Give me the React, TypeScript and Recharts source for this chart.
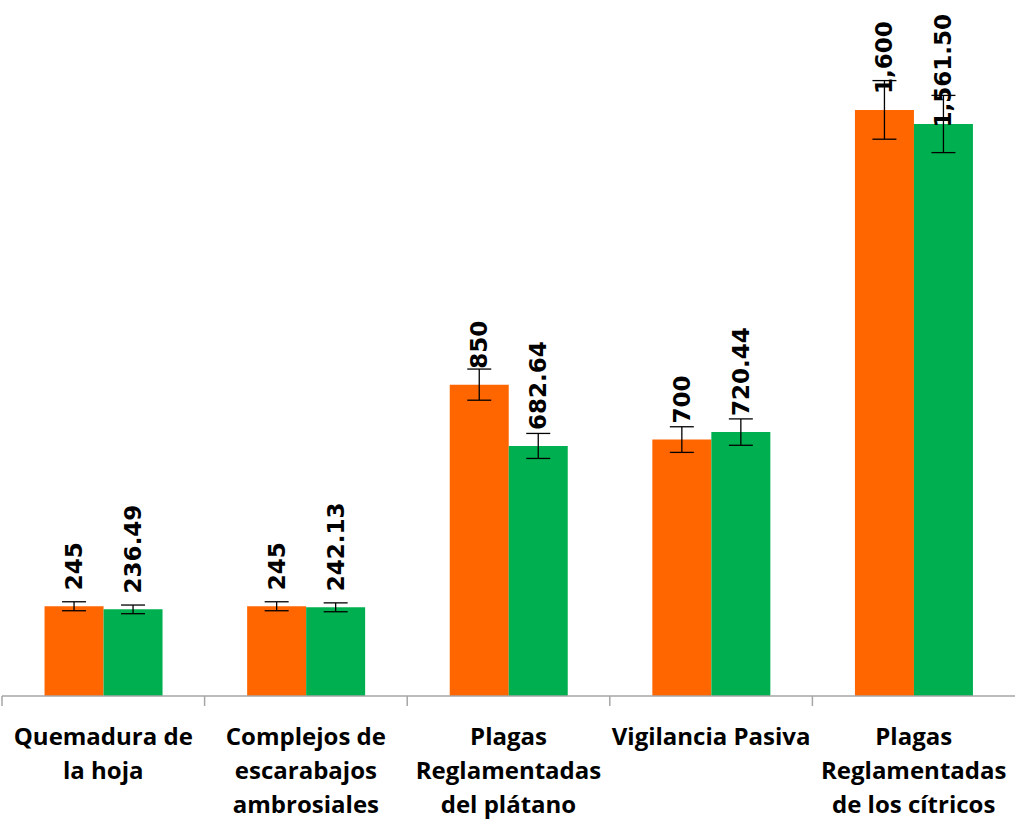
import { BarChart, Bar, XAxis, YAxis, ErrorBar, LabelList } from "recharts";

const categories = [
  ["Quemadura de", "la hoja"],
  ["Complejos de", "escarabajos", "ambrosiales"],
  ["Plagas", "Reglamentadas", "del plátano"],
  ["Vigilancia Pasiva"],
  ["Plagas", "Reglamentadas", "de los cítricos"],
];
const orangeValues = [245, 245, 850, 700, 1600];
const greenValues = [236.49, 242.13, 682.64, 720.44, 1561.5];
const orangeErrors = [12.25, 12.25, 42.5, 35, 80];
const greenErrors = [11.82, 12.11, 34.13, 36.02, 78.08];

const W = 1015;
const H = 820;
const AXIS_H = 124;
const LABEL_FS = 23;
const margin = { top: 0, right: 0, left: 2, bottom: 0 };

const data = categories.map((c, i) => ({
  name: c.join(" "),
  orange: orangeValues[i],
  green: greenValues[i],
  orangeErr: orangeErrors[i],
  greenErr: greenErrors[i],
}));

const bandWidth = (W - margin.left - margin.right) / categories.length;

function CategoryTick(props: any) {
  const { x, y, index } = props;
  const lines = categories[index] || [];
  const left = x - bandWidth / 2;
  return (
    <g>
      <line x1={left} y1={y - 8} x2={left} y2={y + 2} stroke="#a6a6a6" strokeWidth={1.5} />
      <text
        x={x}
        y={y}
        textAnchor="middle"
        fill="#000"
        fontFamily="'Open Sans', sans-serif"
        fontWeight={700}
        fontSize={24}
      >
        {lines.map((l: string, i: number) => (
          <tspan key={i} x={x} y={y + 31 + i * 34} dominantBaseline="central">
            {l}
          </tspan>
        ))}
      </text>
    </g>
  );
}

// rough text length of a rotated value label, to keep it inside the top edge
function labelLength(txt: string) {
  let len = 0;
  for (const ch of txt) len += /[0-9]/.test(ch) ? 0.696 * LABEL_FS : 0.38 * LABEL_FS;
  return len;
}

function makeLabel(decimals: number) {
  return (props: any) => {
    const { x, y, width, value } = props;
    const cx = x + width / 2;
    const txt = Number(value).toLocaleString("en-US", {
      minimumFractionDigits: decimals,
      maximumFractionDigits: decimals,
    });
    const ty = Math.max(y - 16, 14 + labelLength(txt));
    return (
      <text
        x={cx}
        y={ty}
        transform={`rotate(-90 ${cx} ${ty})`}
        textAnchor="start"
        dominantBaseline="central"
        fill="#000"
        fontFamily="'DejaVu Sans', sans-serif"
        fontWeight={700}
        fontSize={LABEL_FS}
      >
        {txt}
      </text>
    );
  };
}

export default function App() {
  return (
    <div style={{ position: "absolute", left: 0, top: 0, width: W, height: H, background: "#fff" }}>
      <BarChart width={W} height={H} data={data} margin={margin} barCategoryGap="21%" barGap={0}>
        <XAxis
          dataKey="name"
          interval={0}
          tick={<CategoryTick />}
          tickLine={false}
          axisLine={{ stroke: "#a6a6a6", strokeWidth: 1.5 }}
          height={AXIS_H}
        />
        <YAxis hide domain={[0, 1900]} />
        <Bar dataKey="orange" fill="#FF6600" isAnimationActive={false}>
          <ErrorBar dataKey="orangeErr" width={12} stroke="#000" strokeWidth={1.3} />
          <LabelList dataKey="orange" content={makeLabel(0)} />
        </Bar>
        <Bar dataKey="green" fill="#00B050" isAnimationActive={false}>
          <ErrorBar dataKey="greenErr" width={12} stroke="#000" strokeWidth={1.3} />
          <LabelList dataKey="green" content={makeLabel(2)} />
        </Bar>
      </BarChart>
    </div>
  );
}
